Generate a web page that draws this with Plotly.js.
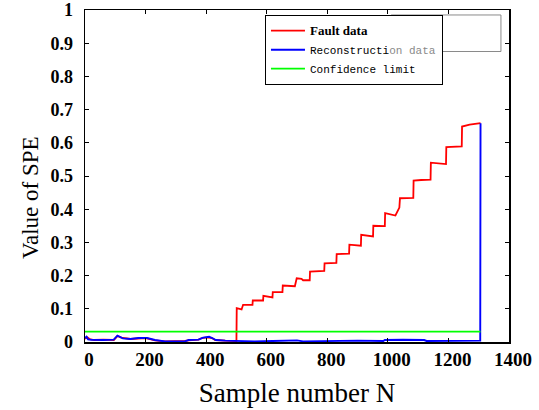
<!DOCTYPE html>
<html>
<head>
<meta charset="utf-8">
<script src="https://cdn.plot.ly/plotly-3.0.1.min.js"></script>
<style>html,body{margin:0;padding:0;background:#fff;}#chart{width:539px;height:410px;}</style>
</head>
<body>
<div id="chart"></div>
<script>
// Fault data (red)
var faultX = [0, 8, 15, 30, 60, 95, 107, 120, 150, 175, 200, 215, 231, 264, 300, 330, 342, 375, 386, 405, 419, 430, 463, 480, 500,
  501, 512, 517, 522, 553, 554, 588, 589, 605, 611, 619, 620, 652, 653, 680, 693, 699, 715, 720, 742, 743, 770, 790, 791, 830, 831,
  872, 873, 905, 911, 912, 935, 951, 952, 990, 991, 1010, 1025, 1038, 1040, 1084, 1085, 1110, 1141, 1142, 1165, 1192, 1193, 1215,
  1244, 1245, 1270, 1306];
var faultY = [0.010, 0.014, 0.009, 0.006, 0.007, 0.006, 0.018, 0.013, 0.009, 0.011, 0.012, 0.009, 0.005, 0.002, 0.002, 0.003, 0.005, 0.007, 0.012, 0.014, 0.012, 0.006, 0.004, 0.003, 0.003,
  0.102, 0.100, 0.098, 0.112, 0.112, 0.125, 0.125, 0.139, 0.137, 0.134, 0.134, 0.150, 0.150, 0.170, 0.170, 0.168, 0.192, 0.190, 0.186, 0.186, 0.212, 0.213, 0.214, 0.237, 0.238, 0.265,
  0.266, 0.293, 0.290, 0.290, 0.323, 0.320, 0.318, 0.350, 0.349, 0.388, 0.385, 0.381, 0.405, 0.433, 0.434, 0.486, 0.488, 0.489, 0.540, 0.538, 0.536, 0.587, 0.588,
  0.589, 0.649, 0.655, 0.659];

// Reconstruction data (blue)
var reconX = [0, 5, 10, 20, 60, 95, 107, 125, 150, 176, 205, 231, 264, 330, 342, 375, 390, 410, 420, 432, 463, 500, 540, 560, 620, 700, 720,
  800, 900, 985, 990, 1050, 1120, 1128, 1200, 1260, 1305, 1306];
var reconY = [0.012, 0.016, 0.008, 0.007, 0.006, 0.007, 0.019, 0.011, 0.009, 0.012, 0.012, 0.006, 0.002, 0.002, 0.006, 0.007, 0.013, 0.016, 0.012, 0.006, 0.004, 0.003, 0.004, 0.002, 0.003, 0.005, 0.002,
  0.003, 0.004, 0.003, 0.006, 0.007, 0.006, 0.003, 0.003, 0.002, 0.004, 0.659];

// Confidence limit (green)
var limitX = [0, 1306];
var limitY = [0.031, 0.031];

var xTicks = [0, 200, 400, 600, 800, 1000, 1200, 1400];
var yTicks = [0, 0.1, 0.2, 0.3, 0.4, 0.5, 0.6, 0.7, 0.8, 0.9, 1];
var yTickText = ['0', '0.1', '0.2', '0.3', '0.4', '0.5', '0.6', '0.7', '0.8', '0.9', '1'];

var traces = [
  {x: faultX, y: faultY, mode: 'lines', name: '<b><span style="font-family:Liberation Serif;font-size:13px">Fault data</span></b>',
   line: {color: '#ff0000', width: 1.8}},
  {x: reconX, y: reconY, mode: 'lines', name: 'Reconstructi<span style="color:#8a8a8a">on data</span>',
   line: {color: '#0000ff', width: 1.9}},
  {x: limitX, y: limitY, mode: 'lines', name: 'Confidence limit',
   line: {color: '#00ff00', width: 1.7}}
];

var tickFont = {family: 'Liberation Serif', size: 18, color: '#000', weight: 'bold'};

var layout = {
  width: 539, height: 410,
  margin: {l: 85, r: 30, t: 10, b: 68},
  paper_bgcolor: '#fff', plot_bgcolor: '#fff',
  showlegend: true,
  xaxis: {
    range: [0, 1400], tickvals: xTicks, ticktext: xTicks.map(String),
    ticks: 'inside', ticklen: 4, tickcolor: '#000', tickwidth: 1,
    showline: true, linecolor: '#000', linewidth: 1.5, mirror: 'ticks',
    showgrid: false, zeroline: false, tickfont: {family: 'Liberation Serif', size: 19, color: '#000', weight: 'bold'}, ticklabelshift: 4,
    title: {text: 'Sample number N', font: {family: 'Liberation Serif', size: 27, color: '#000'}, standoff: 14}
  },
  yaxis: {
    range: [0, 1], tickvals: yTicks, ticktext: yTickText,
    ticks: 'inside', ticklen: 4, tickcolor: '#000', tickwidth: 1,
    showline: true, linecolor: '#000', linewidth: 1.5, mirror: 'ticks',
    showgrid: false, zeroline: false, tickfont: tickFont, ticklabelstandoff: 7
  },
  annotations: [
    {text: 'Value of SPE', xref: 'paper', yref: 'paper', x: -0.127, y: 0.434, xanchor: 'center', yanchor: 'middle',
     textangle: -90, showarrow: false, font: {family: 'Liberation Serif', size: 23, color: '#000'}}
  ],
  legend: {
    x: 0.424, y: 0.985, xanchor: 'left', yanchor: 'top',
    bgcolor: '#fff', bordercolor: '#000', borderwidth: 1.2,
    font: {family: 'Liberation Mono', size: 11, color: '#000'},
    tracegroupgap: 0, itemwidth: 34
  },
  shapes: [
    {type: 'rect', xref: 'paper', yref: 'paper', x0: 0.722, x1: 0.981, y0: 0.875, y1: 0.985,
     line: {color: '#8a8a8a', width: 1}, fillcolor: 'rgba(0,0,0,0)', layer: 'above'}
  ]
};

Plotly.newPlot('chart', traces, layout, {displayModeBar: false, staticPlot: true});
</script>
</body>
</html>
